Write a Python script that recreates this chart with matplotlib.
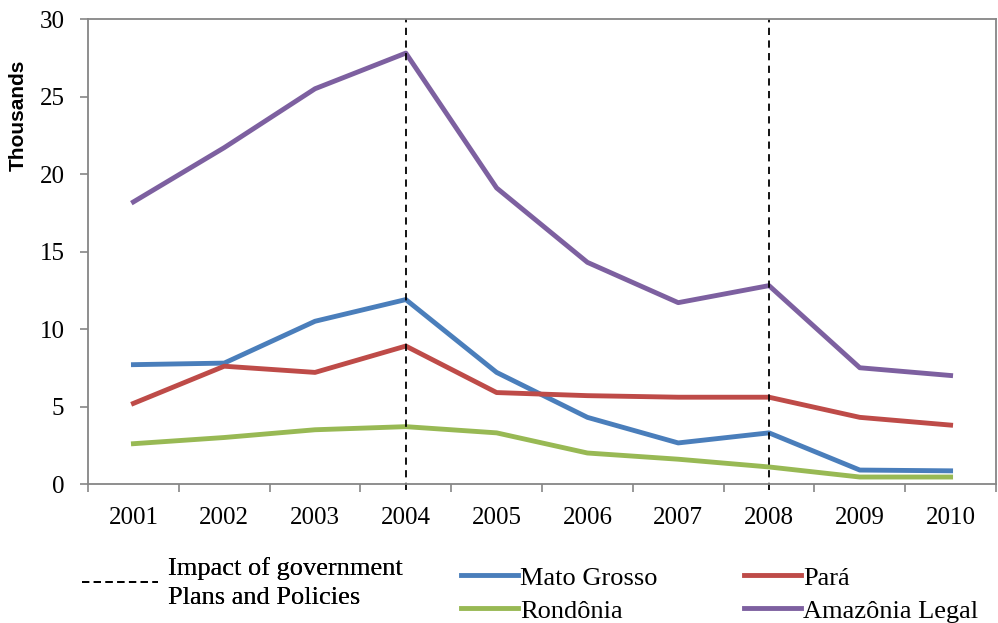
import matplotlib.pyplot as plt
from matplotlib.lines import Line2D

years = ["2001", "2002", "2003", "2004", "2005", "2006", "2007", "2008", "2009", "2010"]
mato_grosso = [7.7, 7.8, 10.5, 11.9, 7.2, 4.3, 2.65, 3.3, 0.9, 0.85]
para = [5.2, 7.6, 7.2, 8.9, 5.9, 5.7, 5.6, 5.6, 4.3, 3.8]
rondonia = [2.6, 3.0, 3.5, 3.7, 3.3, 2.0, 1.6, 1.1, 0.45, 0.45]
amazonia = [18.2, 21.7, 25.5, 27.8, 19.1, 14.3, 11.7, 12.8, 7.5, 7.0]
policy_years = ["2004", "2008"]

plt.rcParams['font.family'] = ['Liberation Serif', 'DejaVu Serif']

fig = plt.figure(figsize=(9.98, 6.23), dpi=100)
ax = fig.add_axes([0.0882, 0.2231, 0.9098, 0.7464])

x = list(range(len(years)))
lw = 3.5
ax.plot(x, mato_grosso, color='#4A7EBB', lw=lw, label='Mato Grosso')
ax.plot(x, para, color='#BE4B48', lw=lw, label='Pará')
ax.plot(x, rondonia, color='#98B954', lw=lw, label='Rondônia')
ax.plot(x, amazonia, color='#7D60A0', lw=lw, label='Amazônia Legal')

for py in policy_years:
    ax.axvline(years.index(py), ymin=-0.012, ymax=1, color='black', lw=1.3,
               ls=(0, (4, 3)), clip_on=False)

ax.set_xlim(-0.5, len(years) - 0.5)
ax.set_ylim(0, 30)
ax.set_xticks([i - 0.5 for i in range(len(years) + 1)])
ax.set_xticklabels([])
ax.set_xticks(x, minor=True)
ax.set_xticklabels(years, minor=True, fontsize=18)
ax.tick_params(axis='x', which='major', direction='out', length=6, color='#868686', width=1.2)
ax.tick_params(axis='x', which='minor', length=0, pad=16.5)
ax.set_yticks(range(0, 31, 5))
ax.tick_params(axis='y', direction='out', length=6, color='#868686', width=1.2,
               labelsize=18, pad=11)
for s in ax.spines.values():
    s.set_color('#868686')
    s.set_linewidth(1.3)

fig.text(0.018, 0.815, 'Thousands', rotation=90, ha='center', va='center',
         fontsize=15, fontweight='bold', family='Liberation Sans')

dash = Line2D([], [], color='black', lw=1.3, ls=(0, (4, 2.5)))
leg1 = fig.legend([dash], ['Impact of government\nPlans and Policies'],
                  loc='center left', bbox_to_anchor=(0.058, 0.064), frameon=False,
                  fontsize=19, handlelength=2.9, handletextpad=0.38)
leg1.get_texts()[0].set_linespacing(1.45)
fig.add_artist(leg1)
handles, labels = ax.get_legend_handles_labels()
fig.legend([handles[0], handles[2], handles[1], handles[3]],
           [labels[0], labels[2], labels[1], labels[3]],
           ncol=2, loc='center left', bbox_to_anchor=(0.451, 0.046), frameon=False,
           fontsize=19, handlelength=2.16, handletextpad=0.08, columnspacing=3.3,
           labelspacing=0.36, borderaxespad=0.0)

fig.savefig('out.png', dpi=100)
